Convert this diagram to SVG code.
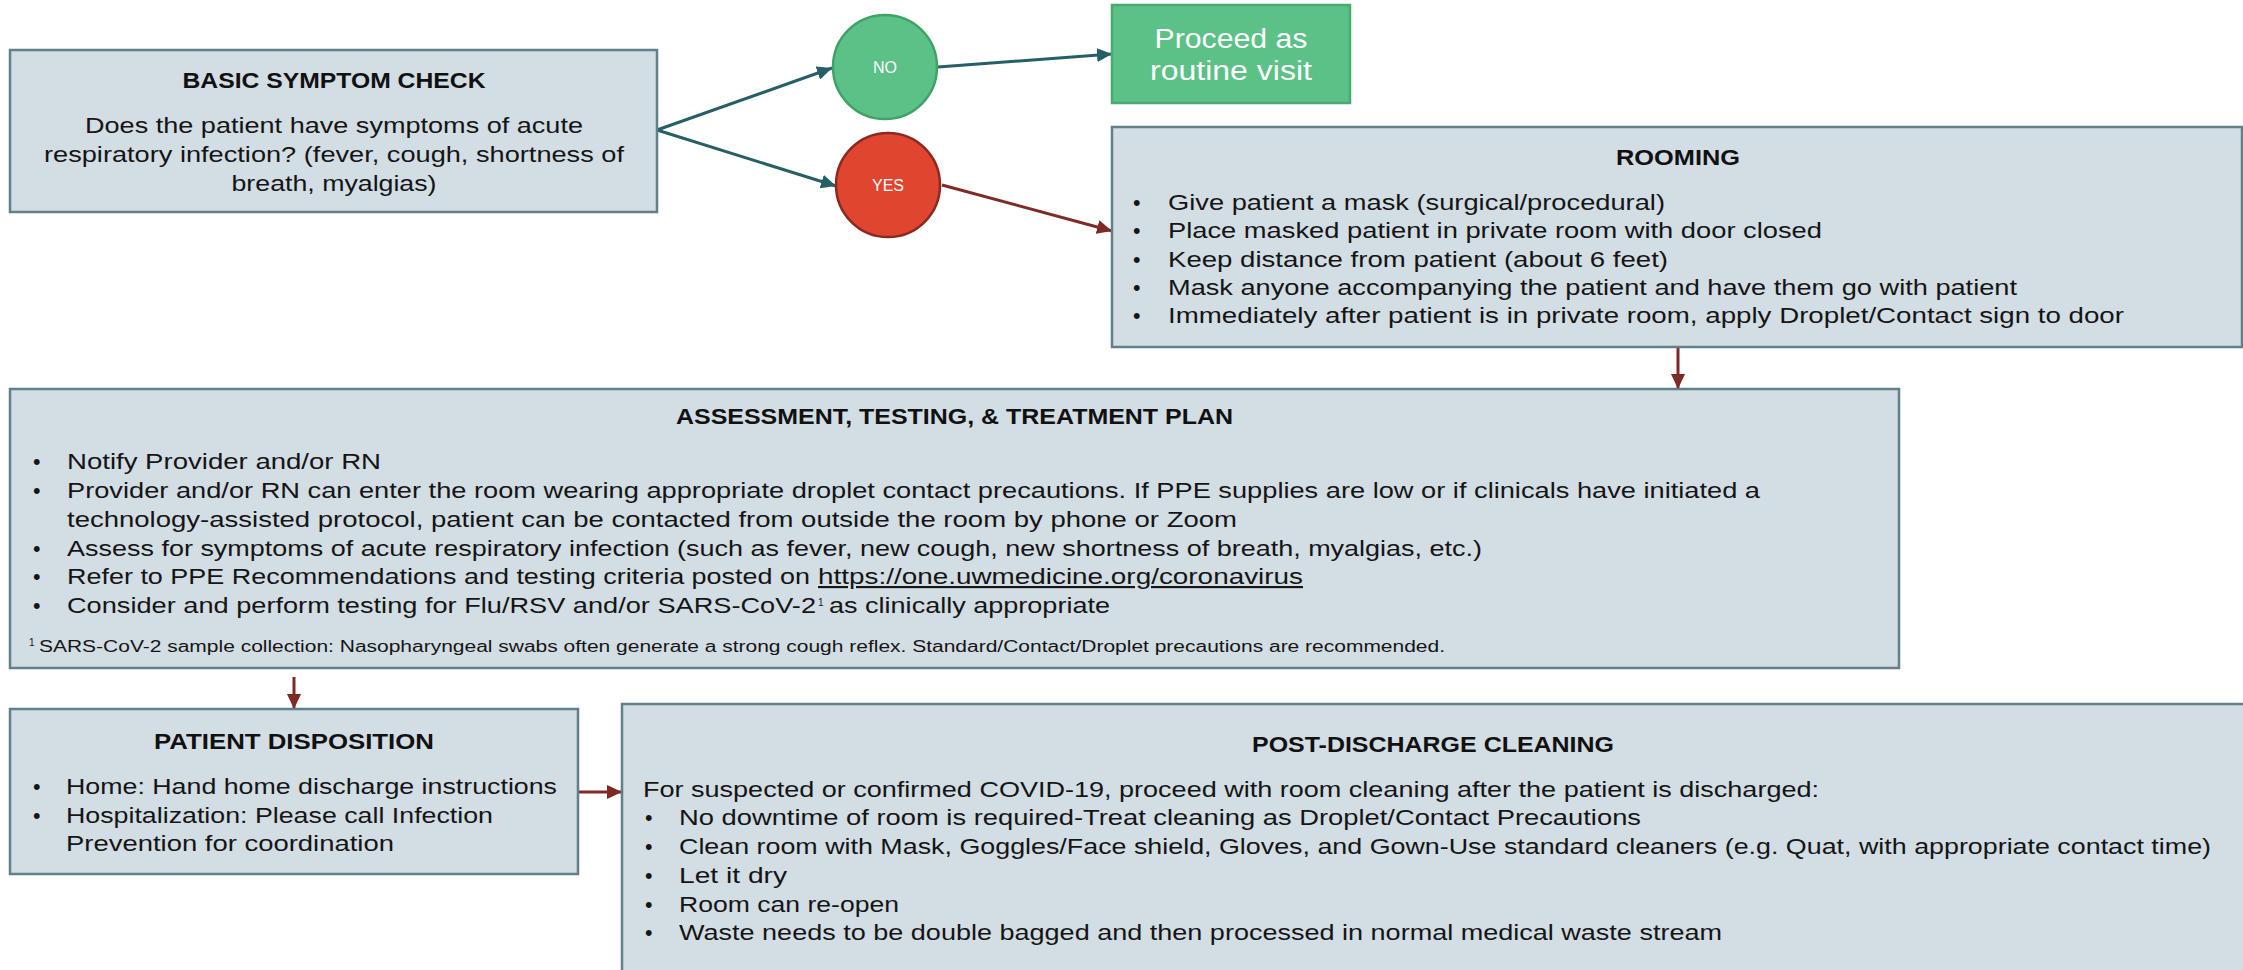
<svg xmlns="http://www.w3.org/2000/svg" width="2243" height="970" viewBox="0 0 2243 970">
<style>
.box{fill:#d2dde4;stroke:#62808a;stroke-width:2.5}
.t{font-family:"Liberation Sans",Arial,sans-serif;font-size:21.5px;fill:#151515}
.h{font-family:"Liberation Sans",Arial,sans-serif;font-size:21.5px;font-weight:bold;fill:#111;text-anchor:middle}
.m{text-anchor:middle}
.fn{font-family:"Liberation Sans",Arial,sans-serif;font-size:16px;fill:#151515}
.sup{font-family:"Liberation Sans",Arial,sans-serif;font-size:10px;fill:#151515}
.w{font-family:"Liberation Sans",Arial,sans-serif;fill:#fff;text-anchor:middle}
.teal{stroke:#265f67;stroke-width:3;fill:none}
.red{stroke:#7e2b27;stroke-width:3;fill:none}
</style>
<defs>
<marker id="at" markerUnits="userSpaceOnUse" markerWidth="16" markerHeight="14" refX="15" refY="7" orient="auto" viewBox="0 0 16 14"><path d="M0,0 L15,7 L0,14 Z" fill="#265f67"/></marker>
<marker id="ar" markerUnits="userSpaceOnUse" markerWidth="16" markerHeight="14" refX="15" refY="7" orient="auto" viewBox="0 0 16 14"><path d="M0,0 L15,7 L0,14 Z" fill="#7e2b27"/></marker>
</defs>

<g id="connectors">
<line class="teal" x1="657" y1="130" x2="832" y2="68" marker-end="url(#at)"/>
<line class="teal" x1="657" y1="130" x2="836" y2="186" marker-end="url(#at)"/>
<line class="teal" x1="938" y1="67" x2="1112" y2="54" marker-end="url(#at)"/>
<line class="red" x1="942" y1="185" x2="1112" y2="231" marker-end="url(#ar)"/>
<line class="red" x1="1678" y1="347" x2="1678" y2="389" marker-end="url(#ar)"/>
<line class="red" x1="294" y1="677" x2="294" y2="709" marker-end="url(#ar)"/>
<line class="red" x1="578" y1="792" x2="622" y2="792" marker-end="url(#ar)"/>
</g>

<g id="basic-symptom-check">
<rect class="box" x="10" y="50" width="647" height="162"/>
<text class="h" x="334" y="88" textLength="303" lengthAdjust="spacingAndGlyphs">BASIC SYMPTOM CHECK</text>
<text class="t m" x="334" y="133" textLength="498" lengthAdjust="spacingAndGlyphs">Does the patient have symptoms of acute</text>
<text class="t m" x="334" y="162" textLength="580" lengthAdjust="spacingAndGlyphs">respiratory infection? (fever, cough, shortness of</text>
<text class="t m" x="334" y="191" textLength="205" lengthAdjust="spacingAndGlyphs">breath, myalgias)</text>
</g>

<g id="no">
<circle cx="885" cy="67" r="52" fill="#5bc186" stroke="#3fa266" stroke-width="2.5"/>
<text class="w" x="885" y="73" font-size="16">NO</text>
</g>

<g id="yes">
<circle cx="888" cy="185" r="52" fill="#df452f" stroke="#8a2a20" stroke-width="2.5"/>
<text class="w" x="888" y="191" font-size="16">YES</text>
</g>

<g id="proceed">
<rect x="1112" y="5" width="238" height="98" fill="#5bc186" stroke="#4aab70" stroke-width="2.5"/>
<text class="w" x="1231" y="48" font-size="27" textLength="153" lengthAdjust="spacingAndGlyphs">Proceed as</text>
<text class="w" x="1231" y="80" font-size="27" textLength="162" lengthAdjust="spacingAndGlyphs">routine visit</text>
</g>

<g id="rooming">
<rect class="box" x="1112" y="127" width="1130" height="220"/>
<text class="h" x="1678" y="165" textLength="124" lengthAdjust="spacingAndGlyphs">ROOMING</text>
<text class="t" x="1133" y="210">•</text>
<text class="t" x="1168" y="210" textLength="497" lengthAdjust="spacingAndGlyphs">Give patient a mask (surgical/procedural)</text>
<text class="t" x="1133" y="238">•</text>
<text class="t" x="1168" y="238" textLength="654" lengthAdjust="spacingAndGlyphs">Place masked patient in private room with door closed</text>
<text class="t" x="1133" y="267">•</text>
<text class="t" x="1168" y="267" textLength="500" lengthAdjust="spacingAndGlyphs">Keep distance from patient (about 6 feet)</text>
<text class="t" x="1133" y="295">•</text>
<text class="t" x="1168" y="295" textLength="849" lengthAdjust="spacingAndGlyphs">Mask anyone accompanying the patient and have them go with patient</text>
<text class="t" x="1133" y="323">•</text>
<text class="t" x="1168" y="323" textLength="956" lengthAdjust="spacingAndGlyphs">Immediately after patient is in private room, apply Droplet/Contact sign to door</text>
</g>

<g id="assessment">
<rect class="box" x="10" y="389" width="1889" height="279"/>
<text class="h" x="954.5" y="424" textLength="557" lengthAdjust="spacingAndGlyphs">ASSESSMENT, TESTING, &amp; TREATMENT PLAN</text>
<text class="t" x="33" y="469">•</text>
<text class="t" x="67" y="469" textLength="314" lengthAdjust="spacingAndGlyphs">Notify Provider and/or RN</text>
<text class="t" x="33" y="498">•</text>
<text class="t" x="67" y="498" textLength="1693" lengthAdjust="spacingAndGlyphs">Provider and/or RN can enter the room wearing appropriate droplet contact precautions. If PPE supplies are low or if clinicals have initiated a</text>
<text class="t" x="67" y="527" textLength="1170" lengthAdjust="spacingAndGlyphs">technology-assisted protocol, patient can be contacted from outside the room by phone or Zoom</text>
<text class="t" x="33" y="556">•</text>
<text class="t" x="67" y="556" textLength="1415" lengthAdjust="spacingAndGlyphs">Assess for symptoms of acute respiratory infection (such as fever, new cough, new shortness of breath, myalgias, etc.)</text>
<text class="t" x="33" y="584">•</text>
<text class="t" x="67" y="584" textLength="743" lengthAdjust="spacingAndGlyphs">Refer to PPE Recommendations and testing criteria posted on</text>
<text class="t" x="818" y="584" textLength="485" lengthAdjust="spacingAndGlyphs" text-decoration="underline">https://one.uwmedicine.org/coronavirus</text>
<text class="t" x="33" y="613">•</text>
<text class="t" x="67" y="613" textLength="749" lengthAdjust="spacingAndGlyphs">Consider and perform testing for Flu/RSV and/or SARS-CoV-2</text>
<text class="sup" x="818" y="606">1</text>
<text class="t" x="829" y="613" textLength="281" lengthAdjust="spacingAndGlyphs">as clinically appropriate</text>
<text class="sup" x="29" y="646">1</text>
<text class="fn" x="39" y="652" textLength="1406" lengthAdjust="spacingAndGlyphs">SARS-CoV-2 sample collection: Nasopharyngeal swabs often generate a strong cough reflex. Standard/Contact/Droplet precautions are recommended.</text>
</g>

<g id="patient-disposition">
<rect class="box" x="10" y="709" width="568" height="165"/>
<text class="h" x="294" y="749" textLength="280" lengthAdjust="spacingAndGlyphs">PATIENT DISPOSITION</text>
<text class="t" x="33" y="794">•</text>
<text class="t" x="66" y="794" textLength="491" lengthAdjust="spacingAndGlyphs">Home: Hand home discharge instructions</text>
<text class="t" x="33" y="823">•</text>
<text class="t" x="66" y="823" textLength="427" lengthAdjust="spacingAndGlyphs">Hospitalization: Please call Infection</text>
<text class="t" x="66" y="851" textLength="328" lengthAdjust="spacingAndGlyphs">Prevention for coordination</text>
</g>

<g id="post-discharge-cleaning">
<rect class="box" x="622" y="704" width="1640" height="300"/>
<text class="h" x="1433" y="752" textLength="362" lengthAdjust="spacingAndGlyphs">POST-DISCHARGE CLEANING</text>
<text class="t" x="643" y="797" textLength="1176" lengthAdjust="spacingAndGlyphs">For suspected or confirmed COVID-19, proceed with room cleaning after the patient is discharged:</text>
<text class="t" x="645" y="825">•</text>
<text class="t" x="679" y="825" textLength="962" lengthAdjust="spacingAndGlyphs">No downtime of room is required-Treat cleaning as Droplet/Contact Precautions</text>
<text class="t" x="645" y="854">•</text>
<text class="t" x="679" y="854" textLength="1532" lengthAdjust="spacingAndGlyphs">Clean room with Mask, Goggles/Face shield, Gloves, and Gown-Use standard cleaners (e.g. Quat, with appropriate contact time)</text>
<text class="t" x="645" y="883">•</text>
<text class="t" x="679" y="883" textLength="108" lengthAdjust="spacingAndGlyphs">Let it dry</text>
<text class="t" x="645" y="912">•</text>
<text class="t" x="679" y="912" textLength="220" lengthAdjust="spacingAndGlyphs">Room can re-open</text>
<text class="t" x="645" y="940">•</text>
<text class="t" x="679" y="940" textLength="1043" lengthAdjust="spacingAndGlyphs">Waste needs to be double bagged and then processed in normal medical waste stream</text>
</g>
</svg>
